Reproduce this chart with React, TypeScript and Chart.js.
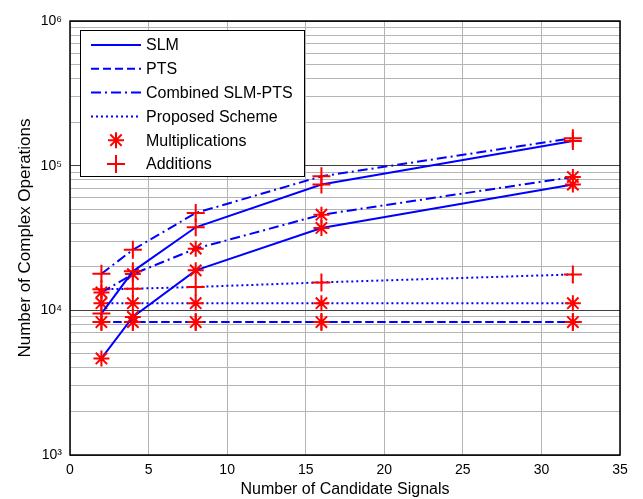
import React, { useEffect, useRef } from 'react';
import { Chart, registerables } from 'chart.js';

Chart.register(...registerables);

// ---- data ----
const candidateSignals = [2, 4, 8, 16, 32];
const slmMult = [4650, 9000, 18900, 37100, 74000];
const slmAdd = [9500, 18600, 37500, 74000, 148000];
const ptsMult = [8300, 8300, 8300, 8300, 8300];
const ptsAdd = [8300, 8300, 8300, 8300, 8300];
const combMult = [13300, 17800, 26700, 45800, 83500];
const combAdd = [17900, 26200, 47100, 84400, 155000];
const propMult = [11200, 11200, 11200, 11200, 11200];
const propAdd = [14000, 14100, 14500, 15600, 17700];

const xTickStep = 5;
const xMin = 0;
const xMax = 35;
const yDecades = [1e3, 1e4, 1e5, 1e6];
const yTickLabels = ['10³', '10⁴', '10⁵', '10⁶'];
const legendLabels = ['SLM', 'PTS', 'Combined SLM-PTS', 'Proposed Scheme', 'Multiplications', 'Additions'];
const xTitle = 'Number of Candidate Signals';
const yTitle = 'Number of Complex Operations';

const BLUE = '#0000ff';
const RED = '#ff0000';
const FONT = '"Liberation Sans", Arial, sans-serif';
const DASH_SOLID: number[] = [];
const DASH_DASHED = [8, 4];
const DASH_DASHDOT = [10, 4, 2, 4];
const DASH_DOTTED = [2, 3];

function pts(vals: number[]) {
  return candidateSignals.map((x, i) => ({ x, y: vals[i] }));
}

function series(label: string, vals: number[], dash: number[], marker: string) {
  return {
    label,
    data: pts(vals),
    borderColor: BLUE,
    borderWidth: 2,
    borderDash: dash,
    pointStyle: marker,
    pointRadius: marker === 'star' ? 8 : 9,
    pointBorderWidth: 2,
    pointBorderColor: RED,
    pointBackgroundColor: RED,
    fill: false,
    tension: 0,
  };
}

function drawMarker(ctx: CanvasRenderingContext2D, kind: string, x: number, y: number, r: number) {
  ctx.save();
  ctx.strokeStyle = RED;
  ctx.lineWidth = 2;
  ctx.setLineDash([]);
  ctx.beginPath();
  ctx.moveTo(x - r, y);
  ctx.lineTo(x + r, y);
  ctx.moveTo(x, y - r);
  ctx.lineTo(x, y + r);
  if (kind === 'star') {
    const d = r * Math.SQRT1_2;
    ctx.moveTo(x - d, y - d);
    ctx.lineTo(x + d, y + d);
    ctx.moveTo(x - d, y + d);
    ctx.lineTo(x + d, y - d);
  }
  ctx.stroke();
  ctx.restore();
}

const framePlugin = {
  id: 'frameAndLegend',
  afterDraw(chart: any) {
    const { ctx, chartArea } = chart;
    const { left, top, right, bottom } = chartArea;
    ctx.save();
    ctx.strokeStyle = '#000';
    ctx.lineWidth = 1.5;
    ctx.setLineDash([]);
    ctx.strokeRect(left, top, right - left, bottom - top);

    // legend box
    const lx = 80.5, ly = 30.5, lw = 224, lh = 146;
    ctx.fillStyle = '#fff';
    ctx.fillRect(lx, ly, lw, lh);
    ctx.lineWidth = 1;
    ctx.strokeStyle = '#000';
    ctx.strokeRect(lx, ly, lw, lh);

    const dashes = [DASH_SOLID, DASH_DASHED, DASH_DASHDOT, DASH_DOTTED];
    const rowY0 = 45;
    const rowStep = 23.8;
    ctx.font = `16px ${FONT}`;
    ctx.textBaseline = 'middle';
    ctx.textAlign = 'left';
    legendLabels.forEach((lab, i) => {
      const y = rowY0 + i * rowStep;
      if (i < 4) {
        ctx.save();
        ctx.strokeStyle = BLUE;
        ctx.lineWidth = 2;
        ctx.setLineDash(dashes[i]);
        ctx.beginPath();
        ctx.moveTo(91, y);
        ctx.lineTo(141, y);
        ctx.stroke();
        ctx.restore();
      } else {
        drawMarker(ctx, i === 4 ? 'star' : 'cross', 116, y, i === 4 ? 8 : 9);
      }
      ctx.fillStyle = '#000';
      ctx.fillText(lab, 146, y + 1);
    });
    ctx.restore();
  },
};

export default function App() {
  const canvasRef = useRef<HTMLCanvasElement | null>(null);

  useEffect(() => {
    const canvas = canvasRef.current;
    if (!canvas) return;
    const yAll: number[] = [];
    for (let d = 0; d < yDecades.length; d++) {
      const base = yDecades[d];
      if (d === yDecades.length - 1) {
        yAll.push(base);
      } else {
        for (let m = 1; m <= 9; m++) yAll.push(base * m);
      }
    }
    const isDecade = (v: number) => yDecades.some((d) => Math.abs(d - v) < 1e-6 * d);

    const chart = new Chart(canvas, {
      type: 'line',
      data: {
        datasets: [
          series('SLM multiplications', slmMult, DASH_SOLID, 'star'),
          series('SLM additions', slmAdd, DASH_SOLID, 'cross'),
          series('PTS multiplications', ptsMult, DASH_DASHED, 'star'),
          series('PTS additions', ptsAdd, DASH_DASHED, 'cross'),
          series('Combined multiplications', combMult, DASH_DASHDOT, 'star'),
          series('Combined additions', combAdd, DASH_DASHDOT, 'cross'),
          series('Proposed multiplications', propMult, DASH_DOTTED, 'star'),
          series('Proposed additions', propAdd, DASH_DOTTED, 'cross'),
        ] as any,
      },
      options: {
        animation: false,
        responsive: false,
        maintainAspectRatio: false,
        devicePixelRatio: 1,
        layout: { padding: { top: 21, right: 23, left: 0, bottom: 0 } },
        plugins: {
          legend: { display: false },
          tooltip: { enabled: false },
        },
        scales: {
          x: {
            type: 'linear',
            min: xMin,
            max: xMax,
            ticks: {
              stepSize: xTickStep,
              padding: 7,
              color: '#000',
              font: { family: FONT, size: 14 },
              maxRotation: 0,
            },
            grid: { color: '#b4b4b4', lineWidth: 1, drawTicks: false },
            border: { display: false },
            title: {
              display: true,
              text: xTitle,
              color: '#000',
              font: { family: FONT, size: 16 },
              padding: { top: 0, bottom: 0 },
            },
            afterFit: (scale: any) => {
              scale.height = 44;
            },
          },
          y: {
            type: 'logarithmic',
            min: yDecades[0],
            max: yDecades[yDecades.length - 1],
            afterBuildTicks: (scale: any) => {
              scale.ticks = yAll.map((v) => ({ value: v }));
            },
            ticks: {
              autoSkip: false,
              padding: 8,
              color: '#000',
              font: { family: FONT, size: 14 },
              callback: (value: any) => {
                const v = Number(value);
                const idx = yDecades.findIndex((d) => Math.abs(d - v) < 1e-6 * d);
                return idx >= 0 ? yTickLabels[idx] : '';
              },
            },
            grid: {
              drawTicks: false,
              lineWidth: 1,
              color: (c: any) => (c.tick && isDecade(c.tick.value) ? '#404040' : '#b4b4b4'),
            },
            border: { display: false },
            title: {
              display: true,
              text: yTitle,
              color: '#000',
              font: { family: FONT, size: 17 },
              padding: { top: 15, bottom: 0 },
            },
            afterFit: (scale: any) => {
              scale.width = 70;
            },
          },
        },
      } as any,
      plugins: [framePlugin],
    });
    return () => chart.destroy();
  }, []);

  return (
    <div style={{ position: 'fixed', left: 0, top: 0, width: 643, height: 499, background: '#fff' }}>
      <canvas ref={canvasRef} width={643} height={499} style={{ width: 643, height: 499, display: 'block' }} />
    </div>
  );
}
